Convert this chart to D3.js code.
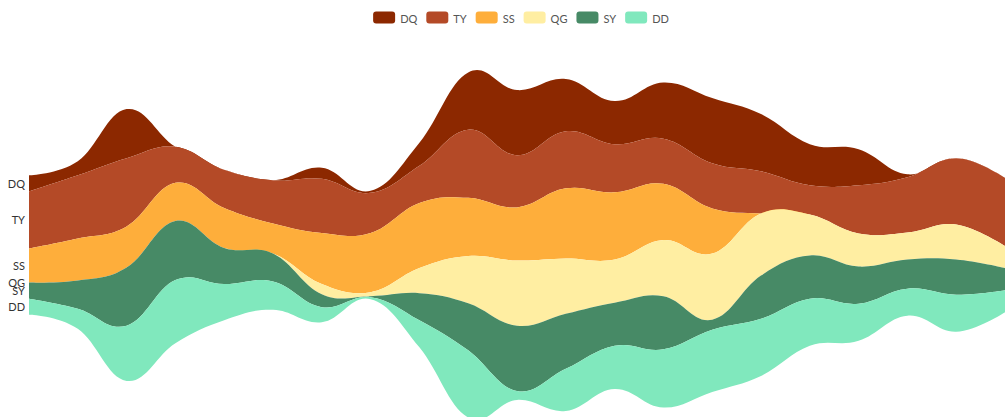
<!DOCTYPE html>
<html><head><meta charset="utf-8">
<script src="https://cdn.jsdelivr.net/npm/d3@7"></script>
<style>body{margin:0;background:#fff} svg{display:block}</style>
</head><body>
<svg id="chart" width="1005" height="417"></svg>
<script>
const dates = ['2015/11/08','2015/11/09','2015/11/10','2015/11/11','2015/11/12','2015/11/13','2015/11/14',
  '2015/11/15','2015/11/16','2015/11/17','2015/11/18','2015/11/19','2015/11/20','2015/11/21',
  '2015/11/22','2015/11/23','2015/11/24','2015/11/25','2015/11/26','2015/11/27','2015/11/28'];
const seriesNames = ['DQ','TY','SS','QG','SY','DD'];
const colors = ['#8c2800','#b44a27','#feae3b','#ffeea2','#478a66','#80e8bd'];
const DQ = [16, 14, 49, 0, 0, 0, 11, 2, 23, 57, 65, 52, 43, 56, 65, 57, 41, 36, 3, 0, 0];
const TY = [57, 63, 68, 36, 38, 43, 54, 40, 37, 68, 52, 57, 48, 45, 45, 42, 29, 48, 55, 66, 68];
const SS = [34, 42, 41, 38, 40, 30, 51, 59, 65, 58, 53, 70, 67, 56, 45, 0, 0, 0, 0, 0, 0];
const QG = [0, 0, 0, 0, 0, 0, 10, 4, 25, 47, 65, 55, 43, 56, 66, 62, 41, 33, 27, 35, 22];
const SY = [16, 28, 58, 59, 36, 28, 13, 1, 27, 47, 65, 55, 43, 53, 10, 43, 43, 37, 29, 35, 22];
const DD = [16, 20, 55, 63, 36, 28, 15, 2, 27, 67, 9, 42, 43, 58, 62, 57, 47, 37, 27, 37, 22];
const seriesValues = {DQ, TY, SS, QG, SY, DD};

const table = dates.map((d, i) => {
  const row = {date: d};
  seriesNames.forEach(k => row[k] = seriesValues[k][i]);
  return row;
});

const svg = d3.select('#chart');
const stack = d3.stack().keys(seriesNames).order(d3.stackOrderNone).offset(d3.stackOffsetSilhouette);
const layers = stack(table);
const maxSum = d3.max(table, r => d3.sum(seriesNames, k => r[k]));

const x = d3.scalePoint().domain(dates).range([29, 1005]);
const y = d3.scaleLinear().domain([-maxSum / 2, maxSum / 2]).range([72.5, 417.5]);

const area = d3.area()
  .x(d => x(d.data.date))
  .y0(d => y(d[0]))
  .y1(d => y(d[1]))
  .curve(d3.curveCardinal.tension(-0.2));

svg.append('g').selectAll('path').data(layers).join('path')
  .attr('d', area)
  .attr('fill', (d, i) => colors[i]);

// labels at the start of each layer
svg.append('g').selectAll('text').data(layers).join('text')
  .attr('x', 25)
  .attr('y', d => y((d[0][0] + d[0][1]) / 2))
  .attr('text-anchor', 'end')
  .attr('dominant-baseline', 'central')
  .attr('font-family', 'Lato, "DejaVu Sans", sans-serif')
  .attr('font-size', 11)
  .attr('fill', '#333')
  .text(d => d.key);

// legend
const lg = svg.append('g');
const itemW = 22, itemH = 12, textGap = 5, itemGap = 9;
const items = lg.selectAll('g').data(seriesNames).join('g');
items.append('rect').attr('width', itemW).attr('height', itemH).attr('rx', 3)
  .attr('fill', (d, i) => colors[i]);
items.append('text').attr('x', itemW + textGap).attr('y', itemH / 2 + 0.5)
  .attr('dominant-baseline', 'central')
  .attr('font-family', 'Lato, "DejaVu Sans", sans-serif')
  .attr('font-size', 11).attr('fill', '#555')
  .text(d => d);
let widths = [];
items.each(function() { widths.push(itemW + textGap + this.querySelector('text').getComputedTextLength()); });
const total = d3.sum(widths) + itemGap * (widths.length - 1);
let cx = 521 - total / 2;
items.attr('transform', (d, i) => {
  const t = `translate(${cx},11.5)`;
  cx += widths[i] + itemGap;
  return t;
});
</script>
</body></html>
